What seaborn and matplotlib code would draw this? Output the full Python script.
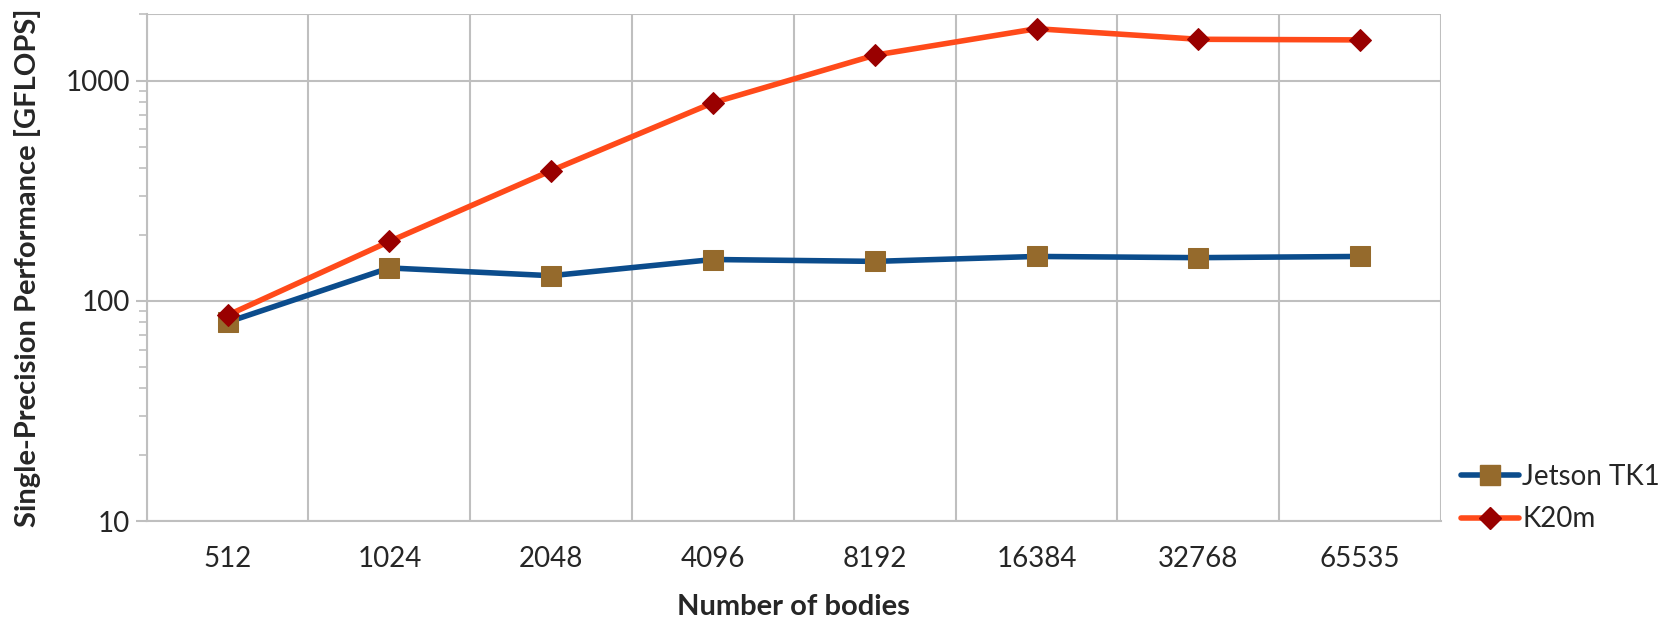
import numpy as np
import pandas as pd
import matplotlib
matplotlib.use("Agg")
import matplotlib.pyplot as plt
from matplotlib.ticker import FixedLocator, NullFormatter, LogLocator
import seaborn as sns

# ── Data ────────────────────────────────────────────────
bodies = ["512", "1024", "2048", "4096", "8192", "16384", "32768", "65535"]
jetson_tk1 = [80, 141, 130, 154, 151, 159, 157, 159]
k20m = [86, 186, 390, 793, 1304, 1720, 1540, 1530]

BLUE = "#0b4c8c"
ORANGE = "#ff4a1a"
BROWN = "#956a2c"
DARKRED = "#990000"
GRID = "#bfbfbf"
LW = 4.0

sns.set_theme(style="white")
plt.rcParams["font.family"] = ["Lato", "DejaVu Sans"]

df = pd.DataFrame({
    "pos": np.tile(np.arange(len(bodies)), 2),
    "gflops": jetson_tk1 + k20m,
    "series": ["Jetson TK1"] * len(bodies) + ["K20m"] * len(bodies),
})

fig = plt.figure(figsize=(16.65, 6.21), dpi=100)
ax = fig.add_axes([0.0881, 0.161, 0.7774, 0.816])

sns.lineplot(data=df, x="pos", y="gflops", hue="series", style="series",
             palette={"Jetson TK1": BLUE, "K20m": ORANGE},
             markers={"Jetson TK1": "s", "K20m": "D"}, dashes=False,
             linewidth=LW, markersize=14, ax=ax, legend=False)

# marker colours differ from line colours
for line, mc, ms in zip(ax.get_lines(), [BROWN, DARKRED], [15, 11]):
    line.set_markerfacecolor(mc)
    line.set_markeredgecolor(mc)
    line.set_markersize(ms)

ax.set_yscale("log")
ax.set_ylim(10, 2000)
ax.set_xlim(-0.5, len(bodies) - 0.5)

ax.set_xticks(np.arange(len(bodies)))
ax.set_xticklabels(bodies)
ax.xaxis.set_minor_locator(FixedLocator(np.arange(-0.5, len(bodies), 1.0)))
ax.set_yticks([10, 100, 1000])
ax.set_yticklabels(["10", "100", "1000"])
ax.yaxis.set_minor_locator(LogLocator(base=10, subs=np.arange(2, 10)))
ax.yaxis.set_minor_formatter(NullFormatter())

ax.tick_params(axis="x", which="both", length=0, labelsize=20, pad=18)
ax.tick_params(axis="y", which="major", length=8, width=1.5, color=GRID,
               direction="out", labelsize=20, pad=4, left=True)
ax.tick_params(axis="y", which="minor", length=6, width=1.2, color=GRID,
               direction="out", left=True)

ax.grid(False)
ax.grid(True, which="minor", axis="x", color=GRID, linewidth=1.5)
ax.grid(True, which="major", axis="y", color=GRID, linewidth=1.5)
ax.axhline(2000, color=GRID, linewidth=1.5)
for s in ax.spines.values():
    s.set_color(GRID)
    s.set_linewidth(1.5)
ax.spines["right"].set_visible(False)
ax.spines["top"].set_visible(False)

ax.set_xlabel("Number of bodies", fontsize=21, fontweight="bold", labelpad=16)
ax.set_ylabel("Single-Precision Performance [GFLOPS]", fontsize=21,
              fontweight="bold", labelpad=18)

handles = [
    plt.Line2D([], [], color=BLUE, lw=LW, marker="s", ms=15,
               mfc=BROWN, mec=BROWN),
    plt.Line2D([], [], color=ORANGE, lw=LW, marker="D", ms=11,
               mfc=DARKRED, mec=DARKRED),
]
fig.legend(handles, ["Jetson TK1", "K20m"], loc="center left",
           bbox_to_anchor=(0.8775, 0.198), frameon=False, fontsize=20,
           handlelength=2.1, handletextpad=0.1, labelspacing=0.6,
           borderpad=0, borderaxespad=0)

plt.savefig("out.png", dpi=100, facecolor="white")
plt.close()
